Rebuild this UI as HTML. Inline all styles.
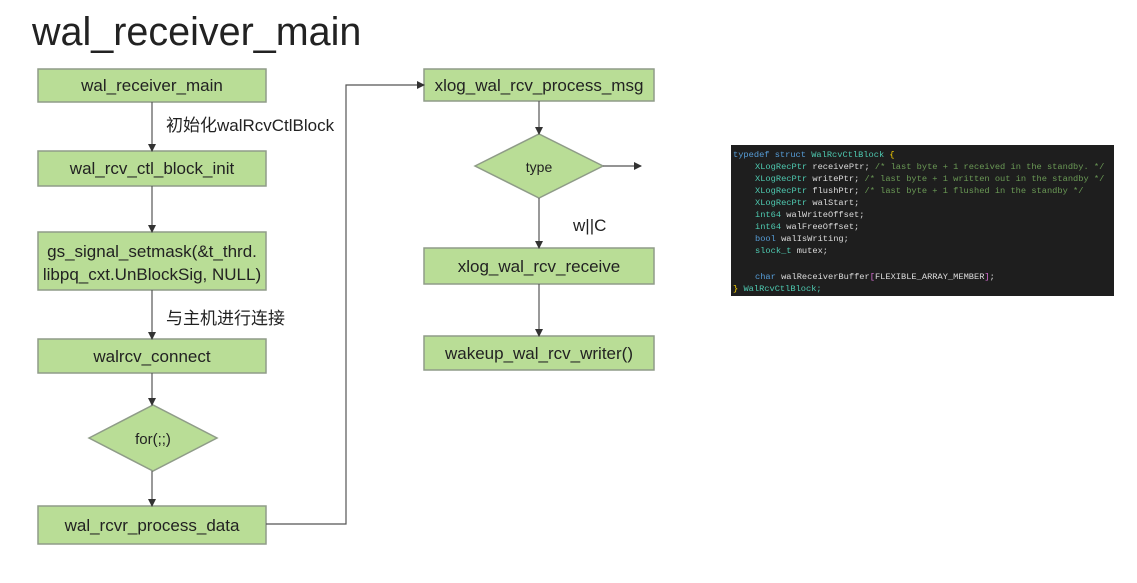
<!DOCTYPE html>
<html><head><meta charset="utf-8"><style>
html,body{margin:0;padding:0;background:#fff;}
body{width:1137px;height:583px;position:relative;overflow:hidden;font-family:"Liberation Sans","Noto Sans CJK SC",sans-serif;}
</style></head><body>
<svg width="1137" height="583" viewBox="0 0 1137 583" xmlns="http://www.w3.org/2000/svg" style="position:absolute;left:0;top:0">
<defs><marker id="a" markerWidth="8" markerHeight="8" refX="7" refY="4" orient="auto" markerUnits="userSpaceOnUse"><path d="M0,0 L8,4 L0,8 z" fill="#333"/></marker></defs>
<text x="32" y="45" font-size="39.5" fill="#222" font-family="Liberation Sans, sans-serif">wal_receiver_main</text>
<g stroke="#8f9c88" stroke-width="1.5" fill="#b9dd96">
<rect x="38" y="69" width="228" height="33"/>
<rect x="38" y="151" width="228" height="35"/>
<rect x="38" y="232" width="228" height="58"/>
<rect x="38" y="339" width="228" height="34"/>
<polygon points="89,438 153,405 217,438 153,471"/>
<rect x="38" y="506" width="228" height="38"/>
<rect x="424" y="69" width="230" height="32"/>
<polygon points="475,166 539,134 603,166 539,198"/>
<rect x="424" y="248" width="230" height="36"/>
<rect x="424" y="336" width="230" height="34"/>
</g>
<g stroke="#555" stroke-width="1.2" fill="none" marker-end="url(#a)">
<line x1="152" y1="102" x2="152" y2="151"/>
<line x1="152" y1="186" x2="152" y2="232"/>
<line x1="152" y1="290" x2="152" y2="339"/>
<line x1="152" y1="373" x2="152" y2="405"/>
<line x1="152" y1="471" x2="152" y2="506"/>
<polyline points="266,524 346,524 346,85 424,85"/>
<line x1="539" y1="101" x2="539" y2="134"/>
<line x1="603" y1="166" x2="641" y2="166"/>
<line x1="539" y1="198" x2="539" y2="248"/>
<line x1="539" y1="284" x2="539" y2="336"/>
</g>
<g font-size="17" fill="#222" text-anchor="middle">
<text x="152" y="91">wal_receiver_main</text>
<text x="152" y="174">wal_rcv_ctl_block_init</text>
<text x="152" y="257">gs_signal_setmask(&amp;t_thrd.</text>
<text x="152" y="280">libpq_cxt.UnBlockSig, NULL)</text>
<text x="152" y="362">walrcv_connect</text>
<text x="153" y="444" font-size="15">for(;;)</text>
<text x="152" y="531">wal_rcvr_process_data</text>
<text x="539" y="91">xlog_wal_rcv_process_msg</text>
<text x="539" y="172" font-size="14">type</text>
<text x="539" y="272">xlog_wal_rcv_receive</text>
<text x="539" y="359">wakeup_wal_rcv_writer()</text>
</g>
<g font-size="17" fill="#222">
<text x="166" y="131">初始化walRcvCtlBlock</text>
<text x="166" y="324">与主机进行连接</text>
<text x="573" y="231">w||C</text>
</g>
<rect x="731" y="145" width="383" height="151" fill="#1e1e1e"/>
<g font-family="Liberation Mono, monospace" font-size="8.7">
<text x="733" y="157"><tspan fill="#569cd6">typedef struct </tspan><tspan fill="#4ec9b0">WalRcvCtlBlock</tspan><tspan fill="#ffd700"> {</tspan></text>
<text x="755" y="169"><tspan fill="#4ec9b0">XLogRecPtr </tspan><tspan fill="#dcdcdc">receivePtr;</tspan><tspan fill="#6a9955"> /* last byte + 1 received in the standby. */</tspan></text>
<text x="755" y="181"><tspan fill="#4ec9b0">XLogRecPtr </tspan><tspan fill="#dcdcdc">writePtr;</tspan><tspan fill="#6a9955">   /* last byte + 1 written out in the standby */</tspan></text>
<text x="755" y="193"><tspan fill="#4ec9b0">XLogRecPtr </tspan><tspan fill="#dcdcdc">flushPtr;</tspan><tspan fill="#6a9955">   /* last byte + 1 flushed in the standby */</tspan></text>
<text x="755" y="205"><tspan fill="#4ec9b0">XLogRecPtr </tspan><tspan fill="#dcdcdc">walStart;</tspan></text>
<text x="755" y="217"><tspan fill="#4ec9b0">int64 </tspan><tspan fill="#dcdcdc">walWriteOffset;</tspan></text>
<text x="755" y="229"><tspan fill="#4ec9b0">int64 </tspan><tspan fill="#dcdcdc">walFreeOffset;</tspan></text>
<text x="755" y="241"><tspan fill="#569cd6">bool </tspan><tspan fill="#dcdcdc">walIsWriting;</tspan></text>
<text x="755" y="253"><tspan fill="#4ec9b0">slock_t </tspan><tspan fill="#dcdcdc">mutex;</tspan></text>
<text x="755" y="279"><tspan fill="#569cd6">char </tspan><tspan fill="#dcdcdc">walReceiverBuffer</tspan><tspan fill="#da70d6">[</tspan><tspan fill="#dcdcdc">FLEXIBLE_ARRAY_MEMBER</tspan><tspan fill="#da70d6">]</tspan><tspan fill="#dcdcdc">;</tspan></text>
<text x="733" y="291"><tspan fill="#ffd700">} </tspan><tspan fill="#4ec9b0">WalRcvCtlBlock;</tspan></text>
</g>
</svg>
</body></html>
